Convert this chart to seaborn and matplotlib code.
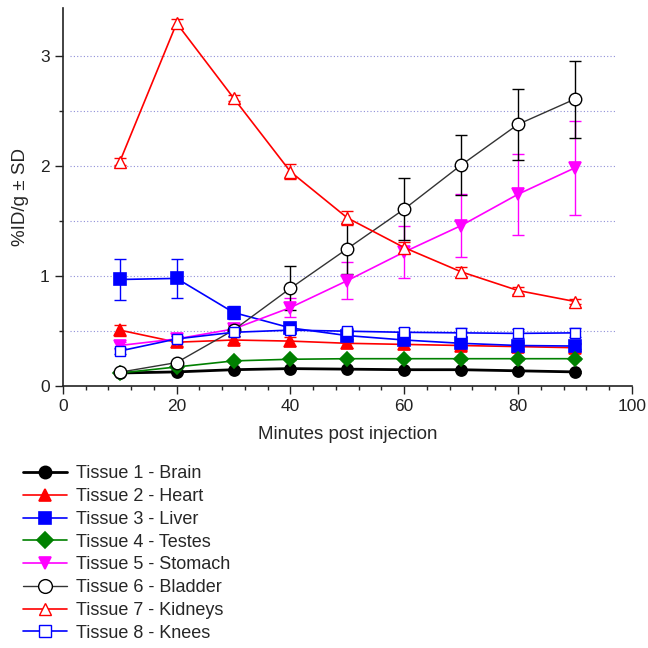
import numpy as np
import pandas as pd
import matplotlib
matplotlib.use("Agg")
import matplotlib.pyplot as plt
import seaborn as sns
from matplotlib.ticker import MultipleLocator

minutes = [10, 20, 30, 40, 50, 60, 70, 80, 90]

tissues = ["Tissue 1 - Brain", "Tissue 2 - Heart", "Tissue 3 - Liver", "Tissue 4 - Testes",
           "Tissue 5 - Stomach", "Tissue 6 - Bladder", "Tissue 7 - Kidneys", "Tissue 8 - Knees"]

brain = [0.12, 0.13, 0.15, 0.16, 0.155, 0.15, 0.15, 0.14, 0.13]
brain_sd = [0.01, 0.01, 0.01, 0.01, 0.01, 0.01, 0.01, 0.01, 0.01]
heart = [0.51, 0.40, 0.42, 0.41, 0.39, 0.38, 0.37, 0.36, 0.35]
heart_sd = [0.05, 0.03, 0.03, 0.04, 0.04, 0.04, 0.04, 0.03, 0.03]
liver = [0.97, 0.98, 0.67, 0.53, 0.46, 0.42, 0.39, 0.37, 0.365]
liver_sd = [0.19, 0.18, 0.06, 0.03, 0.03, 0.03, 0.03, 0.03, 0.03]
testes = [0.12, 0.175, 0.23, 0.245, 0.25, 0.25, 0.25, 0.25, 0.25]
testes_sd = [0.01, 0.01, 0.01, 0.01, 0.01, 0.01, 0.01, 0.01, 0.01]
stomach = [0.37, 0.43, 0.52, 0.715, 0.96, 1.22, 1.46, 1.745, 1.985]
stomach_sd = [0.03, 0.03, 0.03, 0.085, 0.17, 0.24, 0.29, 0.37, 0.43]
bladder = [0.127, 0.215, 0.51, 0.89, 1.25, 1.61, 2.01, 2.38, 2.61]
bladder_sd = [0.0, 0.0, 0.05, 0.2, 0.23, 0.28, 0.27, 0.32, 0.35]
kidneys = [2.04, 3.30, 2.62, 1.95, 1.53, 1.26, 1.04, 0.87, 0.77]
kidneys_sd = [0.03, 0.04, 0.03, 0.07, 0.065, 0.05, 0.045, 0.03, 0.02]
knees = [0.32, 0.43, 0.49, 0.51, 0.50, 0.49, 0.485, 0.48, 0.485]
knees_sd = [0.03, 0.03, 0.03, 0.03, 0.03, 0.04, 0.04, 0.04, 0.04]

values = [brain, heart, liver, testes, stomach, bladder, kidneys, knees]
sds = [brain_sd, heart_sd, liver_sd, testes_sd, stomach_sd, bladder_sd, kidneys_sd, knees_sd]
colors = ["black", "red", "blue", "green", "magenta", "black", "red", "blue"]
line_colors = ["black", "red", "blue", "green", "magenta", "#333333", "red", "blue"]
markers = ["o", "^", "s", "D", "v", "o", "^", "s"]
filled = [True, True, True, True, True, False, False, False]
lws = [2.0, 1.2, 1.2, 1.2, 1.2, 1.0, 1.2, 1.2]
msizes = [8, 8, 8, 7, 8, 9, 8, 7.5]

sns.set_theme(style="ticks")
plt.rcParams['font.family'] = ['Liberation Sans', 'DejaVu Sans']

fig = plt.figure(figsize=(6.48, 6.48), dpi=100)
ax = fig.add_axes([0.097, 0.404, 0.878, 0.584])

for yv in np.arange(0.5, 3.01, 0.5):
    ax.axhline(yv, xmin=0.012, xmax=0.97, color="#8f8fd8", linestyle=(0, (1, 2)),
               linewidth=0.8, zorder=0)

for i, name in enumerate(tissues):
    df = pd.DataFrame({"Minutes": minutes, "Value": values[i]})
    ax.errorbar(minutes, values[i], yerr=sds[i], fmt="none", ecolor=colors[i],
                elinewidth=1.0, capsize=4, capthick=1.0, zorder=2 + i * 0.1)
    sns.lineplot(data=df, x="Minutes", y="Value", ax=ax, color=line_colors[i],
                 linewidth=lws[i], marker=markers[i], markersize=msizes[i],
                 markerfacecolor=colors[i] if filled[i] else "white",
                 markeredgecolor=colors[i], markeredgewidth=1.2 if filled[i] else 1.0,
                 label=name, zorder=3 + i * 0.1)

ax.set_xlim(0, 100)
ax.set_ylim(0, 3.44)
ax.xaxis.set_major_locator(MultipleLocator(20))
ax.xaxis.set_minor_locator(MultipleLocator(4))
ax.yaxis.set_major_locator(MultipleLocator(1))
ax.yaxis.set_minor_locator(MultipleLocator(0.5))
ax.tick_params(axis="both", which="major", length=6, width=1, labelsize=12.5, colors="#222222")
ax.tick_params(axis="both", which="minor", length=3, width=1)
for s in ["top", "right"]:
    ax.spines[s].set_visible(False)
for s in ["left", "bottom"]:
    ax.spines[s].set_color("#222222")
    ax.spines[s].set_linewidth(1.2)
ax.set_xlabel("Minutes post injection", fontsize=13.5, labelpad=8)
ax.set_ylabel("%ID/g ± SD", fontsize=13.5, labelpad=8)

h, l = ax.get_legend_handles_labels()
ax.legend(h, l, loc="upper left", bbox_to_anchor=(0.025, 0.293), bbox_transform=fig.transFigure,
          frameon=False, fontsize=13, handlelength=2.4, labelspacing=0.32,
          handletextpad=0.5, borderaxespad=0, markerscale=1.1)

fig.savefig("out.png", dpi=100)
